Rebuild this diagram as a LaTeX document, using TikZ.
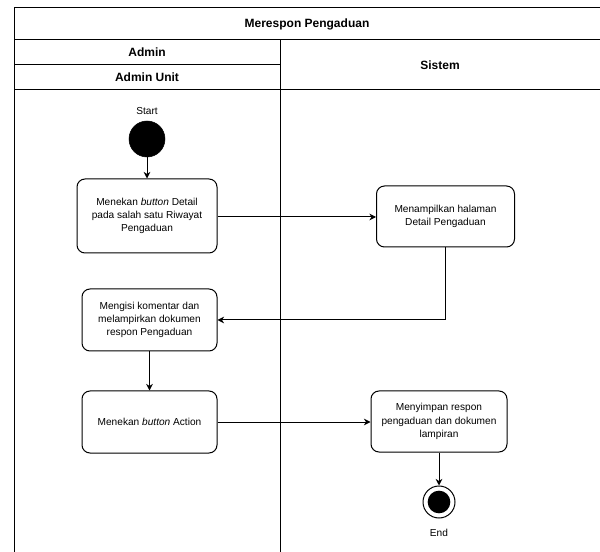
\documentclass[tikz,border=0pt]{standalone}
\usepackage{fontspec}
\setmainfont{Liberation Sans}
\usetikzlibrary{positioning,arrows.meta,calc}
\tikzset{
  act/.style    ={draw, rectangle, rounded corners=6pt, align=center, fill=white, line width=0.75pt, font=\fontsize{7.6}{10}\selectfont},
  startdot/.style ={draw, circle, fill=black, minimum size=27pt, inner sep=0pt},
  endring/.style  ={draw, circle, fill=white, minimum size=24pt, inner sep=0pt, line width=0.75pt},
  enddot/.style   ={circle, fill=black, minimum size=17pt, inner sep=0pt},
  lane/.style   ={line width=0.75pt},
  ttl/.style    ={font=\fontsize{9}{10}\selectfont\bfseries},
  lbl/.style    ={font=\fontsize{7.6}{10}\selectfont},
  arr/.style    ={-{Stealth[length=5pt,width=5pt]}, line width=0.75pt},
}
\begin{document}
\begin{tikzpicture}[x=0.75pt, y=-0.75pt]
  \useasboundingbox (0,0) rectangle (600,552);

  % swimlanes
  \draw[lane] (14,7.5) rectangle (603,556);
  \draw[lane] (14,40) -- (603,40);
  \draw[lane] (14,65) -- (280,65);
  \draw[lane] (14,90) -- (603,90);
  \draw[lane] (280,40) -- (280,556);
  \node[ttl] (judul) at (307,24) {Merespon Pengaduan};
  \node[ttl] (admin) at (147,52) {Admin};
  \node[ttl] (unit) at (147,77) {Admin Unit};
  \node[ttl] (sistem) at (440,65) {Sistem};

  % activities
  \node[lbl] (startlbl) at (147,111) {Start};
  \node[startdot] (start) at (147,139) {};
  \node[act, minimum width=105pt, minimum height=55.5pt] (detail) at (147,216)
    {Menekan \textit{button} Detail\\pada salah satu Riwayat\\Pengaduan};
  \node[act, minimum width=103.5pt, minimum height=45.75pt] (tampil) at (445.5,216.5)
    {Menampilkan halaman\\Detail Pengaduan};
  \node[act, minimum width=101.25pt, minimum height=46.5pt] (isi) at (149.5,320)
    {Mengisi komentar dan\\melampirkan dokumen\\respon Pengaduan};
  \node[act, minimum width=101.25pt, minimum height=46.5pt] (action) at (149.5,422)
    {Menekan \textit{button} Action};
  \node[act, minimum width=102pt, minimum height=45.75pt] (simpan) at (439,421.5)
    {Menyimpan respon\\pengaduan dan dokumen\\lampiran};
  \node[endring] (end) at (439,502) {};
  \node[enddot] (enddot) at (end) {};
  \node[lbl] (endlbl) at (439,533) {End};

  % flows
  \draw[arr] (start) -- (detail);
  \draw[arr] (detail.east |- 0,217) -- (tampil.west |- 0,217);
  \draw[arr] (tampil.south) |- (isi.east);
  \draw[arr] (isi) -- (action);
  \draw[arr] (action) -- (simpan.west |- action);
  \draw[arr] (simpan) -- (end);
\end{tikzpicture}
\end{document}
